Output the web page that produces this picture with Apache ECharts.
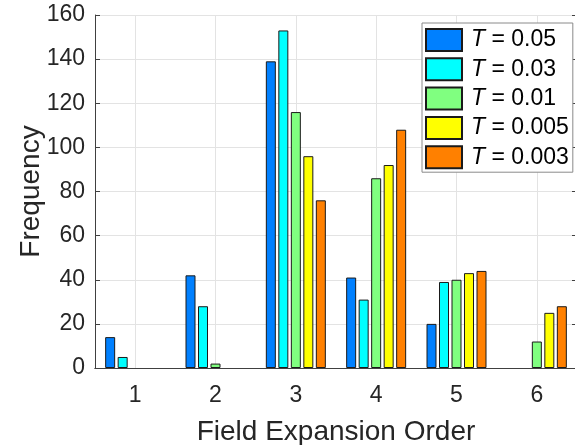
<!DOCTYPE html>
<html>
<head>
<meta charset="utf-8">
<script src="https://cdn.jsdelivr.net/npm/echarts@6/dist/echarts.min.js"></script>
<style>
  html, body { margin: 0; padding: 0; background: #fff; }
  #chart { width: 575px; height: 445px; }
</style>
</head>
<body>
<div id="chart"></div>
<script>
// categories = field expansion order
const orders = ['1', '2', '3', '4', '5', '6'];
const temps = ['0.05', '0.03', '0.01', '0.005', '0.003'];
const colors = ['#0080ff', '#00ffff', '#80ff80', '#ffff00', '#ff8000'];

// frequency per order, one array per T
const freqT005 = [14, 42, 139, 41, 20, 0];
const freqT003 = [5, 28, 153, 31, 39, 0];
const freqT001 = [0, 2, 116, 86, 40, 12];
const freqT0005 = [0, 0, 96, 92, 43, 25];
const freqT0003 = [0, 0, 76, 108, 44, 28];
const freqs = [freqT005, freqT003, freqT001, freqT0005, freqT0003];

const yTicks = { min: 0, max: 160, interval: 20 };

const FONT = '"Liberation Sans", Arial, Helvetica, sans-serif';
const INK = '#262626';
const AXIS = '#404040';

const chart = echarts.init(document.getElementById('chart'), null, { renderer: 'canvas' });

const option = {
  backgroundColor: '#fff',
  animation: false,
  textStyle: { fontFamily: FONT, color: INK },
  grid: { left: 95, right: -2, top: 15, bottom: 77, containLabel: false, outerBoundsMode: 'none' },
  legend: {
    orient: 'vertical',
    left: 422,
    top: 23,
    padding: [5, 4, 3, 3],
    icon: 'rect',
    itemWidth: 36,
    itemHeight: 22,
    itemGap: 5.3,
    backgroundColor: '#fff',
    borderColor: '#8a8a8a',
    borderWidth: 1,
    borderRadius: 0,
    z: 10,
    data: temps.map((t) => `T = ${t}`),
    formatter: (name) => name.replace('T', '{i|T}'),
    textStyle: {
      fontFamily: FONT,
      fontSize: 23,
      color: '#000',
      padding: [0, 0, 0, 4],
      rich: {
        i: { fontFamily: FONT, fontSize: 23, fontStyle: 'italic', color: '#000' }
      }
    }
  },
  xAxis: [
    {
      type: 'category',
      data: orders,
      position: 'bottom',
      name: 'Field Expansion Order',
      nameLocation: 'middle',
      nameMoveOverlap: false,
      nameGap: 50,
      nameTextStyle: { fontFamily: FONT, fontSize: 28, color: INK },
      axisLine: { lineStyle: { color: AXIS, width: 1 } },
      axisTick: { inside: true, length: 5, alignWithLabel: true, lineStyle: { color: AXIS } },
      axisLabel: { fontFamily: FONT, fontSize: 23, color: INK, margin: 16 },
      splitLine: { show: true, alignWithLabel: true, lineStyle: { color: '#e3e3e3', width: 1 } }
    },
    {
      type: 'category',
      data: orders,
      position: 'top',
      axisLine: { lineStyle: { color: AXIS, width: 1 } },
      axisTick: { inside: true, length: 5, alignWithLabel: true, lineStyle: { color: AXIS } },
      axisLabel: { show: false },
      splitLine: { show: false }
    }
  ],
  yAxis: [
    {
      type: 'value',
      min: yTicks.min,
      max: yTicks.max,
      interval: yTicks.interval,
      position: 'left',
      name: 'Frequency',
      nameLocation: 'middle',
      nameMoveOverlap: false,
      nameGap: 50,
      nameTextStyle: { fontFamily: FONT, fontSize: 28, color: INK },
      axisLine: { show: true, lineStyle: { color: AXIS, width: 1 } },
      axisTick: { show: true, inside: true, length: 5, lineStyle: { color: AXIS } },
      axisLabel: { fontFamily: FONT, fontSize: 23, color: INK, margin: 10 },
      splitLine: { show: true, lineStyle: { color: '#e3e3e3', width: 1 } }
    },
    {
      type: 'value',
      min: yTicks.min,
      max: yTicks.max,
      interval: yTicks.interval,
      position: 'right',
      axisLine: { show: true, lineStyle: { color: AXIS, width: 1 } },
      axisTick: { show: true, inside: true, length: 5, lineStyle: { color: AXIS } },
      axisLabel: { show: false },
      splitLine: { show: false }
    }
  ],
  series: temps.map((t, i) => ({
    name: `T = ${t}`,
    type: 'bar',
    xAxisIndex: 0,
    yAxisIndex: 0,
    // zero-height bars get no outline, like the reference
    data: freqs[i].map((v) => (v === 0 ? { value: v, itemStyle: { borderWidth: 0 } } : v)),
    barWidth: 10,
    barGap: '25%',
    itemStyle: { color: colors[i], borderColor: '#1a1a1a', borderWidth: 1 },
    emphasis: { disabled: true }
  }))
};

chart.setOption(option);
</script>
</body>
</html>
